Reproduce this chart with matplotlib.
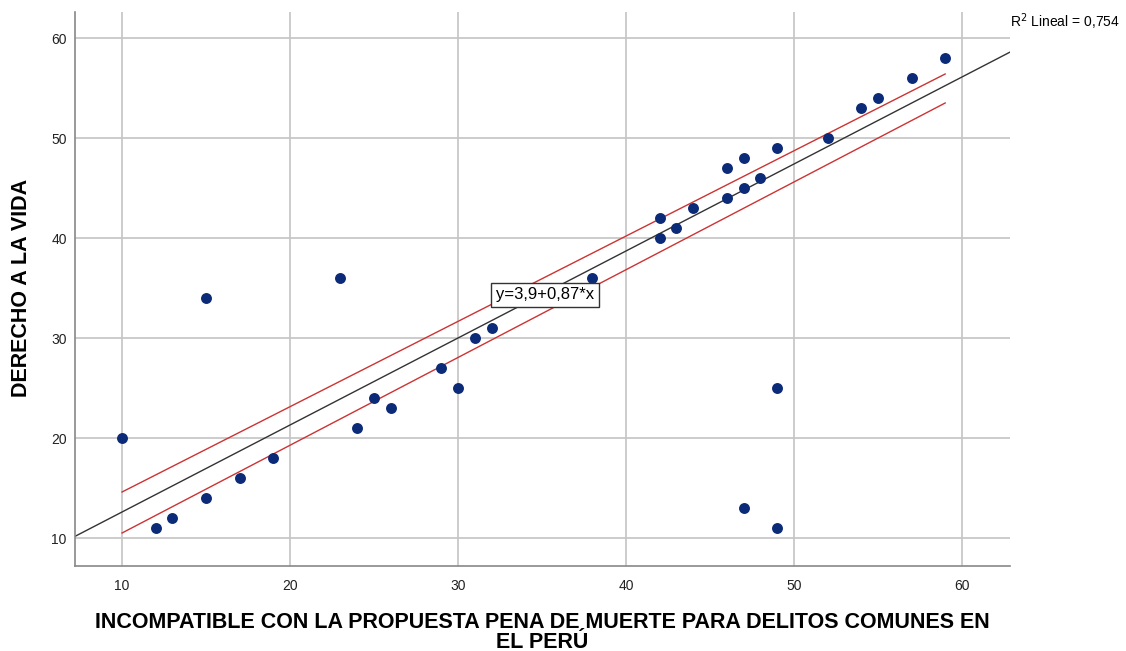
import numpy as np
import matplotlib.pyplot as plt

plt.rcParams['font.family'] = ['Liberation Sans', 'DejaVu Sans']

# puntaje de cada encuestado
incompatible = [10, 12, 13, 15, 15, 17, 19, 23, 24, 25, 26, 29, 30, 31, 32, 38,
                42, 42, 43, 44, 46, 46, 47, 47, 47, 48, 49, 49, 49, 52, 54, 55, 57, 59]
derecho_vida = [20, 11, 12, 14, 34, 16, 18, 36, 21, 24, 23, 27, 25, 30, 31, 36,
                42, 40, 41, 43, 47, 44, 48, 45, 13, 46, 49, 25, 11, 50, 53, 54, 56, 58]

# recta de ajuste y bandas
intercept = 3.9
slope = 0.87
band_x = [10, 59]
band_upper = [14.6, 56.4]
band_lower = [10.5, 53.5]
r2_text = "R$^2$ Lineal = 0,754"
eq_text = "y=3,9+0,87*x"

fig = plt.figure(figsize=(11.26, 6.51), dpi=100)
ax = fig.add_axes([75 / 1126, 1 - 566 / 651, 935 / 1126, 554 / 651])

ax.set_xlim(7.2, 62.86)
ax.set_ylim(7.2, 62.6)
ax.set_xticks([10, 20, 30, 40, 50, 60])
ax.set_yticks([10, 20, 30, 40, 50, 60])
ax.grid(True, color='#c4c4c4', linewidth=1.2)
ax.set_axisbelow(True)
for side in ['top', 'right']:
    ax.spines[side].set_visible(False)
for side in ['left', 'bottom']:
    ax.spines[side].set_color('#888888')
    ax.spines[side].set_linewidth(1.2)
ax.tick_params(length=0, labelsize=10, colors='#222222')
ax.tick_params(axis='x', pad=9)
ax.tick_params(axis='y', pad=6)

xl = np.array(ax.get_xlim())
ax.plot(xl, intercept + slope * xl, color='#333333', linewidth=1)
ax.plot(band_x, band_upper, color='#cc3333', linewidth=1)
ax.plot(band_x, band_lower, color='#cc3333', linewidth=1)

ax.scatter(incompatible, derecho_vida, s=62, color='#0b2a78', zorder=3, linewidths=0)

ax.text(32.25, 34.3, eq_text, fontsize=12, va='center', ha='left', zorder=4,
        bbox=dict(boxstyle='square,pad=0.28', facecolor='white', edgecolor='#333333', linewidth=1))

fig.text(1010 / 1126, 1 - 22 / 651, r2_text, fontsize=10, va='center', ha='left')

fig.text(22 / 1126, 1 - 288 / 651, "DERECHO A LA VIDA", fontsize=15.5, fontweight='bold',
         rotation=90, ha='center', va='center')
fig.text(542 / 1126, 1 - 622 / 651,
         "INCOMPATIBLE CON LA PROPUESTA PENA DE MUERTE PARA DELITOS COMUNES EN",
         fontsize=15.5, fontweight='bold', ha='center', va='center')
fig.text(542 / 1126, 1 - 642 / 651, "EL PERÚ",
         fontsize=15.5, fontweight='bold', ha='center', va='center')

fig.savefig('out.png', dpi=100)
